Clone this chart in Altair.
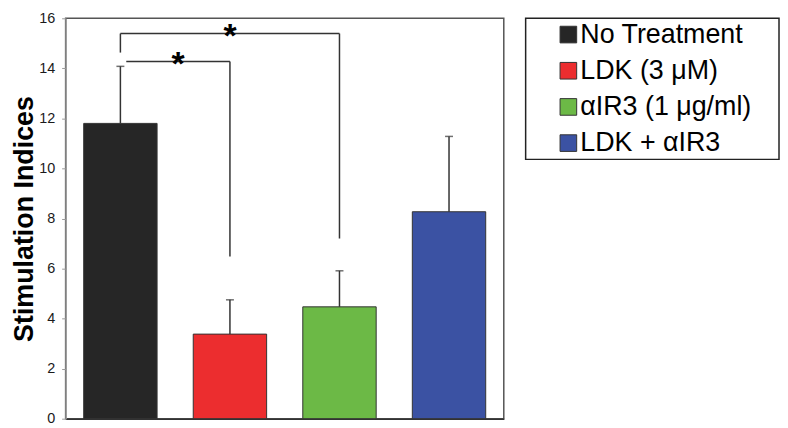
import altair as alt
import pandas as pd

categories = ["No Treatment", "LDK (3 μM)", "αIR3 (1 μg/ml)", "LDK + αIR3"]
means = [11.80, 3.38, 4.47, 8.27]
err_tops = [14.08, 4.75, 5.91, 11.28]
colors = ["#262626", "#ec2d2f", "#6cb946", "#3b52a3"]
y_ticks = [0, 2, 4, 6, 8, 10, 12, 14, 16]

# significance brackets (category names and data values)
b1_from, b1_to, b1_val = "No Treatment", "LDK (3 μM)", 14.27
b2_from, b2_to, b2_val = "No Treatment", "αIR3 (1 μg/ml)", 15.39
v_cat = ["LDK (3 μM)", "No Treatment", "αIR3 (1 μg/ml)"]
v_top = [14.27, 15.39, 15.39]
v_bot = [6.48, 14.63, 7.20]
star_labels = ["*", "*"]
star_val = [15.39, 14.30]

FONT = "Liberation Sans"
LINE = "#333333"

bars_df = pd.DataFrame({"cat": categories, "val": means, "top": err_tops})
v_df = pd.DataFrame({"cat": v_cat, "top": v_top, "bot": v_bot})

xscale = alt.Scale(domain=categories, paddingInner=0.33, paddingOuter=0.165)
yscale = alt.Scale(domain=[0, 16], nice=False)
xaxis = alt.Axis(labels=False, ticks=False, title=None, domainColor=LINE, domainWidth=1.5)
yaxis = alt.Axis(values=y_ticks, title="Stimulation Indices",
                 titleFont=FONT, titleFontSize=27, titleFontWeight="bold",
                 titleColor="black", titlePadding=0,
                 labelFont=FONT, labelFontSize=14.5, labelColor="#1a1a1a",
                 labelPadding=7, tickSize=4, tickColor="#999999",
                 domainColor="#999999", domainWidth=1.5, grid=False)


def X(field, **kw):
    return alt.X(field, scale=xscale, sort=categories, axis=xaxis, **kw)


def Y(field):
    return alt.Y(field, scale=yscale, axis=yaxis)


bars = alt.Chart(bars_df).mark_bar(stroke=LINE, strokeWidth=1).encode(
    x=X("cat:N"),
    y=Y("val:Q"),
    color=alt.Color("cat:N", scale=alt.Scale(domain=categories, range=colors), legend=None),
)

err_line = alt.Chart(bars_df).mark_rule(color=LINE, strokeWidth=1.5).encode(
    x=X("cat:N"), y=Y("val:Q"), y2="top:Q",
)

err_cap = alt.Chart(bars_df).mark_tick(color=LINE, size=8, thickness=1.5).encode(
    x=X("cat:N"), y=Y("top:Q"),
)

h1 = alt.Chart(pd.DataFrame({"a": [b1_from], "b": [b1_to], "val": [b1_val]})).mark_rule(
    color=LINE, strokeWidth=1.5).encode(
    x=X("a:N", bandPosition=0.58),
    x2=alt.X2("b:N", bandPosition=0.5),
    y=Y("val:Q"),
)
h2 = alt.Chart(pd.DataFrame({"a": [b2_from], "b": [b2_to], "val": [b2_val]})).mark_rule(
    color=LINE, strokeWidth=1.5).encode(
    x=X("a:N", bandPosition=0.5),
    x2=alt.X2("b:N", bandPosition=0.5),
    y=Y("val:Q"),
)

v_rules = alt.Chart(v_df).mark_rule(color=LINE, strokeWidth=1.5).encode(
    x=X("cat:N"), y=Y("bot:Q"), y2="top:Q",
)

stars_df = pd.DataFrame({"cat": ["LDK (3 μM)", "No Treatment"], "val": star_val,
                         "label": star_labels})
star1 = alt.Chart(stars_df.iloc[[0]]).mark_text(
    font=FONT, fontSize=34, fontWeight="bold", color="black", baseline="middle", dy=4
).encode(x=X("cat:N"), y=Y("val:Q"), text="label:N")
star2 = alt.Chart(stars_df.iloc[[1]]).mark_text(
    font=FONT, fontSize=34, fontWeight="bold", color="black", baseline="middle",
    dx=58, dy=4
).encode(x=X("cat:N"), y=Y("val:Q"), text="label:N")

main = alt.layer(bars, err_line, err_cap, h1, h2, v_rules, star1, star2).properties(
    width=441, height=403,
    view=alt.ViewBackground(stroke="#555555", strokeWidth=1.5),
)

leg_df = pd.DataFrame({"cat": categories})
leg_y = alt.Y("cat:N", sort=categories,
              scale=alt.Scale(type="point", domain=categories, padding=0.45), axis=None)
leg_sq = alt.Chart(leg_df).mark_square(size=280, opacity=1, stroke=LINE, strokeWidth=1).encode(
    x=alt.value(43),
    y=leg_y,
    color=alt.Color("cat:N", scale=alt.Scale(domain=categories, range=colors), legend=None),
)
leg_txt = alt.Chart(leg_df).mark_text(
    font=FONT, fontSize=27, color="black", align="left", baseline="middle"
).encode(
    x=alt.value(55),
    y=leg_y,
    text="cat:N",
)
legend = alt.layer(leg_sq, leg_txt).properties(
    width=255, height=142,
    view=alt.ViewBackground(stroke="#222222", strokeWidth=1.5),
)

chart = alt.hconcat(main, legend, spacing=20).properties(
    padding={"left": 2, "top": 0, "right": 0, "bottom": 0},
).configure_view(strokeWidth=1.5)

chart.save("out.html", embed_options={"renderer": "svg", "actions": False})
